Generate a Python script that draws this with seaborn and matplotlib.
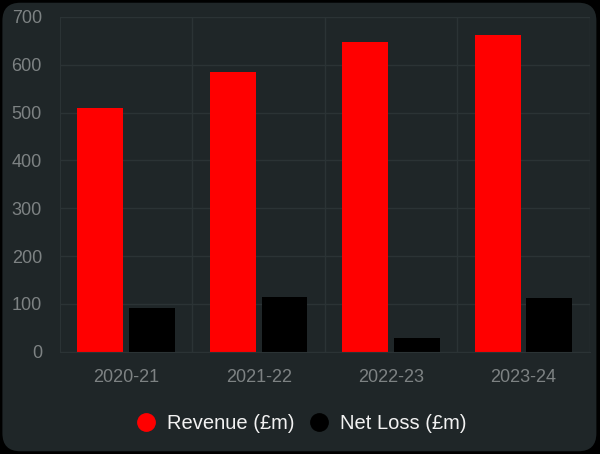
import matplotlib
matplotlib.use("Agg")
import matplotlib.pyplot as plt
from matplotlib.patches import FancyBboxPatch
from matplotlib.lines import Line2D
import pandas as pd
import seaborn as sns

# Data
years = ["2020-21", "2021-22", "2022-23", "2023-24"]
revenue = [510, 585, 648, 662]
net_loss = [91, 114, 28, 112]

df = pd.DataFrame({
    "year": years * 2,
    "value": revenue + net_loss,
    "series": ["Revenue (£m)"] * 4 + ["Net Loss (£m)"] * 4,
})

bg = "#1f2628"
tick_col = "#7d8283"
grid_col = "#2b3335"

sns.set_style("dark")
plt.rcParams["font.family"] = ["Liberation Sans", "DejaVu Sans"]

fig = plt.figure(figsize=(6, 4.54), dpi=100, facecolor="black")
card = FancyBboxPatch((0.004, 0.006), 0.99, 0.988,
                      boxstyle="round,pad=0,rounding_size=0.03",
                      transform=fig.transFigure, facecolor=bg, edgecolor="none",
                      mutation_aspect=600 / 454, zorder=-10)
fig.patches.append(card)

ax = fig.add_axes([0.1, 0.225, 0.883, 0.738])
ax.set_facecolor(bg)

sns.barplot(data=df, x="year", y="value", hue="series",
            palette=["#ff0000", "#000000"], width=0.78, gap=0.11,
            ax=ax, legend=False, saturation=1, linewidth=0)

ax.set_ylim(0, 700)
ax.set_yticks(range(0, 701, 100))
ax.set_xlim(-0.5, 3.5)
ax.set_xlabel("")
ax.set_ylabel("")

ax.yaxis.grid(True, color=grid_col, linewidth=1)
for b in [0.5, 1.5, 2.5, 3.5]:
    ax.axvline(b, color=grid_col, linewidth=1, zorder=0)
ax.set_axisbelow(True)
for s in ax.spines.values():
    s.set_visible(False)
ax.spines["left"].set_visible(True)
ax.spines["left"].set_color(grid_col)
ax.spines["bottom"].set_visible(True)
ax.spines["bottom"].set_color(grid_col)

ax.tick_params(axis="both", colors=tick_col, labelsize=13, length=0)
ax.tick_params(axis="y", pad=13)
ax.tick_params(axis="x", pad=12)

handles = [
    Line2D([], [], marker="o", linestyle="none", markersize=12.5,
           markerfacecolor="#ff0000", markeredgecolor="#ff0000"),
    Line2D([], [], marker="o", linestyle="none", markersize=12.5,
           markerfacecolor="#000000", markeredgecolor="#000000"),
]
fig.legend(handles, ["Revenue (£m)", "Net Loss (£m)"], loc="center",
           bbox_to_anchor=(0.497, 0.068), ncol=2, frameon=False,
           labelcolor="#f2f2f2", fontsize=14.5, handletextpad=0.25,
           columnspacing=0.45, handlelength=1.6)

fig.savefig("out.png", dpi=100, facecolor="black")
